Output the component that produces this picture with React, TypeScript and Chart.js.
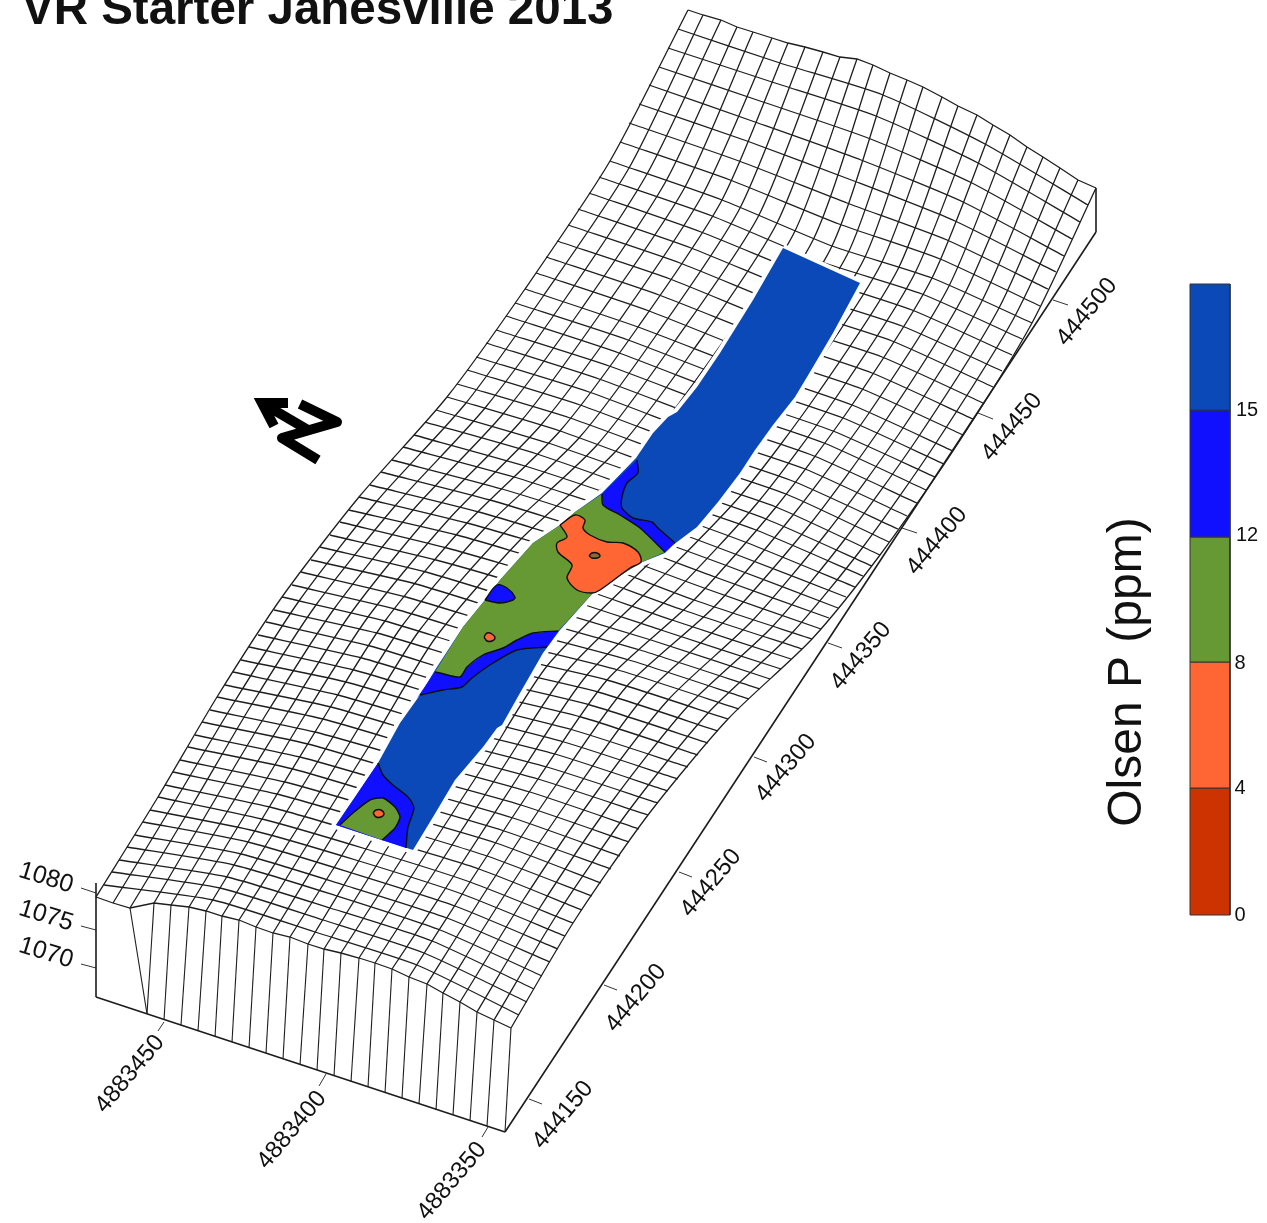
import React, { useEffect, useRef } from "react";
import { Chart, registerables } from "chart.js";

Chart.register(...registerables);

const title = "VR Starter Janesville 2013";
const legendTitle = "Olsen P (ppm)";
const legendColors = ["#0B49B8", "#1010FF", "#669933", "#FF6633", "#CC3300"];
const legendBreaks = [284, 410, 537, 662, 788, 915];
const legendLabels = ["15", "12", "8", "4", "0"];
const legendLabelX = [1247, 1247, 1240, 1240, 1240];
const legendLabelY = [410, 535, 663, 788, 915];

// Wireframe columns, sampled at every 8th row (x, y per column 0..24)
const row0 = [96,897,113,903,130,908,154,903,171,905,189,907,206,911,222,916,239,920,256,927,273,933,290,937,308,944,324,949,341,953,359,958,375,963,392,969,409,977,427,984,443,993,460,1002,477,1012,494,1020,511,1028];
const row8 = [158,797,175,801,193,804,210,808,227,812,245,815,262,819,279,824,297,829,314,834,331,839,349,844,366,849,383,855,401,860,418,866,435,871,453,877,470,882,487,889,504,896,522,902,539,909,556,916,573,923];
const row16 = [217,697,235,701,252,704,270,708,288,712,305,715,323,719,341,724,358,729,376,735,394,740,411,745,429,750,447,755,465,760,484,765,502,769,520,774,538,779,556,785,575,791,593,797,611,803,630,809,648,815];
const row24 = [282,597,299,601,316,605,334,609,351,613,368,617,385,621,402,626,419,631,436,637,453,642,470,647,487,652,507,657,527,661,547,666,567,671,587,675,607,680,627,686,647,693,668,700,688,706,708,713,728,719];
const row32 = [359,497,377,501,395,506,413,510,431,514,449,519,467,523,485,528,503,534,521,539,539,544,557,550,575,555,595,563,615,570,634,578,654,585,674,593,694,600,714,607,733,613,753,620,773,626,792,633,812,639];
const row40 = [447,397,466,403,485,408,503,414,522,420,541,425,560,431,579,438,597,445,616,451,635,458,653,465,672,472,689,478,707,484,724,489,741,495,759,501,776,507,793,515,811,523,828,531,845,539,863,547,880,555];
const row48 = [525,289,544,295,563,302,582,308,600,314,619,321,638,327,657,334,675,341,694,349,713,356,731,363,750,370,767,376,784,382,801,387,818,393,835,399,852,405,869,413,886,420,903,428,919,436,936,443,953,451];
const row56 = [610,161,629,168,647,174,666,181,685,187,703,194,722,200,740,208,759,215,777,223,795,231,814,238,832,246,849,251,865,257,882,262,899,267,915,273,932,278,949,286,965,293,982,301,999,308,1015,316,1032,323];
const row64 = [688,10,703,15,721,20,737,27,753,32,772,38,788,43,805,47,823,52,840,57,857,59,873,65,890,73,907,80,923,87,942,97,958,106,977,115,993,125,1010,135,1027,147,1043,157,1060,168,1078,180,1096,188];

// Wireframe rows: five stations per row (rows 1..63)
const stationL = [104,885,112,872,119,860,127,847,135,835,143,822,150,810,158,797,165,785,173,772,180,760,188,747,195,735,202,722,210,710,217,697,225,685,233,672,241,660,249,647,258,635,266,622,274,610,282,597,292,585,301,572,311,560,320,547,330,535,340,522,349,510,359,497,370,485,381,472,392,460,403,447,414,435,425,422,436,410,447,397,457,384,467,370,476,357,486,343,496,330,506,316,515,303,525,289,536,273,546,257,557,241,568,225,578,209,589,193,599,177,610,161,620,142,629,123,639,104,649,85,659,67,668,48,678,29];
const stationA = [213,900,220,888,227,877,234,865,241,854,248,842,255,831,262,819,270,807,277,794,285,782,293,769,300,757,308,744,315,732,323,719,331,707,338,695,346,682,354,670,362,658,370,646,377,633,385,621,395,609,406,597,416,584,426,572,436,560,447,548,457,535,467,523,479,512,490,500,502,489,514,477,525,466,537,454,548,443,560,431,570,418,580,405,589,392,599,379,609,366,619,353,628,340,638,327,649,311,659,295,670,279,680,263,691,248,701,232,712,216,722,200,730,180,739,161,747,141,755,122,763,102,772,82,780,63];
const stationM = [315,932,323,920,330,908,337,896,344,885,352,873,359,861,366,849,374,837,382,824,390,812,398,800,405,787,413,775,421,762,429,750,436,738,444,726,451,713,458,701,465,689,473,677,480,664,487,652,498,640,509,628,520,616,531,604,542,591,553,579,564,567,575,555,587,545,599,534,611,524,624,513,636,503,648,493,660,482,672,472,682,459,692,447,701,434,711,421,721,408,731,396,740,383,750,370,760,355,771,339,781,324,791,308,801,293,812,277,822,262,832,246,839,224,847,203,854,181,861,160,868,138,876,116,883,95];
const stationB = [417,965,424,953,432,941,440,930,447,918,455,906,462,894,470,882,479,869,487,856,496,843,504,831,513,818,521,805,530,792,538,779,547,767,555,754,564,742,573,730,581,717,590,705,598,692,607,680,618,670,629,660,640,650,651,640,661,630,672,620,683,610,694,600,704,588,715,577,725,565,735,554,745,542,756,530,766,519,776,507,786,494,795,482,805,469,814,456,824,443,833,431,843,418,852,405,862,389,872,373,882,357,892,341,902,326,912,310,922,294,932,278,940,259,947,240,955,221,963,202,970,182,978,163,985,144];
const stationR = [519,1015,527,1002,534,989,542,976,550,962,558,949,565,936,573,923,582,910,592,896,601,883,611,869,620,856,629,842,639,829,648,815,658,803,668,791,678,779,688,767,698,755,708,743,718,731,728,719,739,709,749,699,760,689,770,679,781,669,791,659,802,649,812,639,821,629,829,618,838,608,846,597,855,587,863,576,872,566,880,555,889,542,898,529,907,516,917,503,926,490,935,477,944,464,953,451,963,435,973,419,983,403,993,387,1002,371,1012,355,1022,339,1032,323,1040,306,1048,289,1056,272,1064,256,1072,239,1080,222,1088,205];

// Front wall: top vertex, bottom vertex
const wallTopX = [130,154,171,189,206,222,239,256,273,290,308,324,341,359,375,392,409,427,443,460,477,494,511];
const wallTopY = [908,903,905,907,911,916,920,927,933,937,944,949,953,958,963,969,977,984,993,1002,1012,1020,1028];
const wallBottomX = [147,147,164,181,198,215,232,249,266,283,300,317,334,351,368,385,402,419,436,453,470,487,505];
const wallBottomY = [1014,1014,1020,1025,1031,1037,1042,1048,1053,1059,1065,1070,1076,1082,1087,1093,1098,1104,1110,1115,1121,1126,1132];
const frameLines = [
  [96,883,96,997],
  [96,997,505,1132],
  [505,1132,1096,232],
  [1096,188,1096,232],
];

// Tick marks
const zTicks = [[81,888,96,893],[81,926,96,930],[81,964,96,968]];
const eastTicks = [[164,1022,158,1031],[326,1074,319,1086],[488,1127,482,1137]];
const northTicks = [[529,1099,542,1104],[604,985,617,990],[679,872,692,877],[754,757,767,762],[828,643,842,648],[902,528,917,533],[978,413,993,419],[1053,300,1068,305]];

// Tick labels
const zLabels = ["1080", "1075", "1070"];
const zLabelX = [46, 46, 46];
const zLabelY = [878, 916, 953];
const eastLabels = ["4883450", "4883400", "4883350"];
const eastLabelX = [130, 292, 452];
const eastLabelY = [1074, 1130, 1181];
const northLabels = ["444150","444200","444250","444300","444350","444400","444450","444500"];
const northLabelX = [563,636,711,786,861,937,1012,1087];
const northLabelY = [1115,998,883,768,656,541,427,312];

// Sampled strip and its contour classes
const stripOutline = [783,248,860,283,833,333,810,372,795,397,773,425,755,450,740,473,718,502,697,527,673,545,665,553,640,563,593,593,560,630,543,653,520,693,502,725,497,728,483,747,455,780,433,817,413,850,336,825,353,800,378,763,400,723,420,695,435,670,463,627,485,600,500,580,533,543,560,525,575,512,602,493,636,458,653,433,668,417,677,412,697,387,720,353,753,300];
const blueUpper = [637,460,638,473,627,483,622,497,622,508,633,518,652,522,658,528,675,543,665,552,640,528,620,515,603,505,602,494];
const greenMiddle = [602,494,603,505,620,515,640,528,665,552,640,563,593,593,558,631,533,633,517,640,503,648,483,655,467,667,460,677,440,673,435,672,463,627,485,600,500,580,533,543,560,525,575,512];
const blueLower = [558,631,533,633,517,640,503,648,483,655,467,667,460,677,440,673,435,672,417,698,420,695,443,690,462,687,472,678,493,663,517,650,547,647,543,653];
const blueBlob = [485,600,497,585,507,588,515,597,513,600,500,603];
const orangeMain = [560,525,575,515,585,520,583,528,590,535,607,542,623,543,638,552,641,562,630,568,600,590,592,593,577,590,567,578,572,565,558,552,557,543,567,537];
const holeCentre = [589,556,592,553,597,553,600,556,597,558,592,558];
const orangeSpot = [484,637,487,633,492,634,495,638,492,641,487,641];
const blueBottom = [378,763,383,775,393,785,408,797,414,808,408,827,406,848,336,825,353,800];
const greenBottom = [340,825,353,813,370,800,383,798,395,807,400,817,395,828,382,840];
const orangeBottom = [373,813,376,810,381,810,384,814,381,817,376,817];

// Contour lines, open where they end on the strip's edge
const contourUpper1 = [637,460,638,473,627,483,622,497,622,508,633,518,652,522,658,528,675,543];
const contourUpper2 = [602,494,603,505,620,515,640,528,665,552];
const contourLower1 = [558,631,533,633,517,640,503,648,483,655,467,667,460,677,440,673,435,672];
const contourLower2 = [420,695,443,690,462,687,472,678,493,663,517,650,547,647];
const contourBottom1 = [378,763,383,775,393,785,408,797,414,808,408,827,406,848];
const contourBottom2 = [340,825,353,813,370,800,383,798,395,807,400,817,395,828,382,840];

// North arrow
const arrowShaft = [262,403,308,430];
const arrowHead = [288,403,262,403,274,426];
const northGlyph = [300,404,337,422,282,438,318,460];

const pts = (flat: number[]) => {
  const out: { x: number; y: number }[] = [];
  for (let i = 0; i < flat.length; i += 2) out.push({ x: flat[i], y: flat[i + 1] });
  return out;
};

const stroke = (flat: number[], color: string, width: number, order: number, tension = 0, join = "miter") => ({
  type: "scatter" as const, data: pts(flat), showLine: true, pointRadius: 0, borderColor: color,
  borderWidth: width, tension, order, fill: false, borderJoinStyle: join,
});

const area = (flat: number[], color: string, order: number, tension = 0, edge = "transparent", edgeWidth = 0) => ({
  type: "scatter" as const, data: pts([...flat, flat[0], flat[1]]), showLine: true, pointRadius: 0,
  backgroundColor: color, borderColor: edge, borderWidth: edgeWidth, tension, order, fill: "shape" as const,
});

export default function App() {
  const ref = useRef<HTMLCanvasElement | null>(null);

  useEffect(() => {
    document.body.style.margin = "0";
    const grid = "#1e1e1e";
    const columns = [row0, row8, row16, row24, row32, row40, row48, row56, row64];
    const datasets: any[] = [];

    for (let c = 0; c < 25; c++) {
      const flat: number[] = [];
      columns.forEach((row) => flat.push(row[c * 2], row[c * 2 + 1]));
      datasets.push(stroke(flat, grid, 1.3, 100, 0.25));
    }
    datasets.push(stroke(row0, grid, 1.3, 100));
    datasets.push(stroke(row64, grid, 1.3, 100));
    const stations = [stationL, stationA, stationM, stationB, stationR];
    for (let r = 0; r < stationL.length / 2; r++) {
      const flat: number[] = [];
      stations.forEach((s) => flat.push(s[r * 2], s[r * 2 + 1]));
      datasets.push(stroke(flat, grid, 1.3, 100, 0.2));
    }
    wallTopX.forEach((x, i) => {
      datasets.push(stroke([x, wallTopY[i], wallBottomX[i], wallBottomY[i]], grid, 1.1, 100));
    });
    frameLines.forEach((l) => datasets.push(stroke(l, "#1c1c1c", 1.6, 90)));
    [...zTicks, ...eastTicks, ...northTicks].forEach((l) => datasets.push(stroke(l, "#333333", 1, 90)));

    datasets.push(area(stripOutline, "#0B49B8", 50, 0, "#ffffff", 8));
    datasets.push(area(stripOutline, "#0B49B8", 45));
    datasets.push(area(blueUpper, "#1010FF", 40));
    datasets.push(area(greenMiddle, "#669933", 40));
    datasets.push(area(blueLower, "#1010FF", 40));
    datasets.push(area(blueBottom, "#1010FF", 40));
    datasets.push(area(greenBottom, "#669933", 35));
    datasets.push(area(blueBlob, "#1010FF", 30, 0.35, "#101010", 1.4));
    datasets.push(area(orangeMain, "#FF6633", 30, 0.3, "#101010", 1.4));
    datasets.push(area(holeCentre, "#8C6A33", 20, 0.4, "#101010", 1.4));
    datasets.push(area(orangeSpot, "#FF6633", 20, 0.4, "#101010", 1.4));
    datasets.push(area(orangeBottom, "#FF6633", 20, 0.4, "#101010", 1.4));
    [contourUpper1, contourUpper2, contourLower1, contourLower2, contourBottom1, contourBottom2].forEach((l) =>
      datasets.push(stroke(l, "#101010", 1.4, 25, 0.25))
    );

    datasets.push(stroke(arrowShaft, "#000000", 10, 5));
    datasets.push(stroke(arrowHead, "#000000", 10, 5));
    datasets.push(stroke(northGlyph, "#000000", 10, 5, 0, "round"));

    legendColors.forEach((color, i) => {
      datasets.push(area([1190, legendBreaks[i], 1230, legendBreaks[i], 1230, legendBreaks[i + 1], 1190, legendBreaks[i + 1]], color, 10, 0, "#333333", 1));
    });

    const labels: any[] = [];
    const font = "Liberation Sans";
    labels.push({ t: title, x: 22, y: 24, a: 0, f: `bold 47.5px "${font}"`, align: "left", base: "alphabetic" });
    zLabels.forEach((t, i) => labels.push({ t, x: zLabelX[i], y: zLabelY[i], a: 17, f: `25px "${font}"`, align: "center", base: "middle" }));
    eastLabels.forEach((t, i) => labels.push({ t, x: eastLabelX[i], y: eastLabelY[i], a: -50, f: `24px "${font}"`, align: "center", base: "middle" }));
    northLabels.forEach((t, i) => labels.push({ t, x: northLabelX[i], y: northLabelY[i], a: -50, f: `24px "${font}"`, align: "center", base: "middle" }));
    legendLabels.forEach((t, i) => labels.push({ t, x: legendLabelX[i], y: legendLabelY[i], a: 0, f: `20px "${font}"`, align: "center", base: "middle" }));
    labels.push({ t: legendTitle, x: 1128, y: 672, a: -90, f: `48px "${font}"`, align: "center", base: "middle" });

    const textPlugin = {
      id: "imageText",
      afterDatasetsDraw(chart: any) {
        const { ctx, scales } = chart;
        labels.forEach((l) => {
          ctx.save();
          ctx.translate(scales.x.getPixelForValue(l.x), scales.y.getPixelForValue(l.y));
          ctx.rotate((l.a * Math.PI) / 180);
          ctx.font = l.f;
          ctx.fillStyle = "#111111";
          ctx.textAlign = l.align;
          ctx.textBaseline = l.base;
          ctx.fillText(l.t, 0, 0);
          ctx.restore();
        });
      },
    };

    const chart = new Chart(ref.current as HTMLCanvasElement, {
      type: "scatter",
      data: { datasets },
      options: {
        animation: false,
        responsive: false,
        devicePixelRatio: 1,
        layout: { padding: 0 },
        events: [],
        plugins: { legend: { display: false }, tooltip: { enabled: false } },
        scales: {
          x: { type: "linear", min: 0, max: 1267, display: false },
          y: { type: "linear", min: 0, max: 1223, reverse: true, display: false },
        },
      },
      plugins: [textPlugin],
    } as any);
    return () => chart.destroy();
  }, []);

  return (
    <div style={{ position: "absolute", left: 0, top: 0, width: 1267, height: 1223, background: "#fff" }}>
      <canvas ref={ref} width={1267} height={1223} style={{ display: "block" }} />
    </div>
  );
}
